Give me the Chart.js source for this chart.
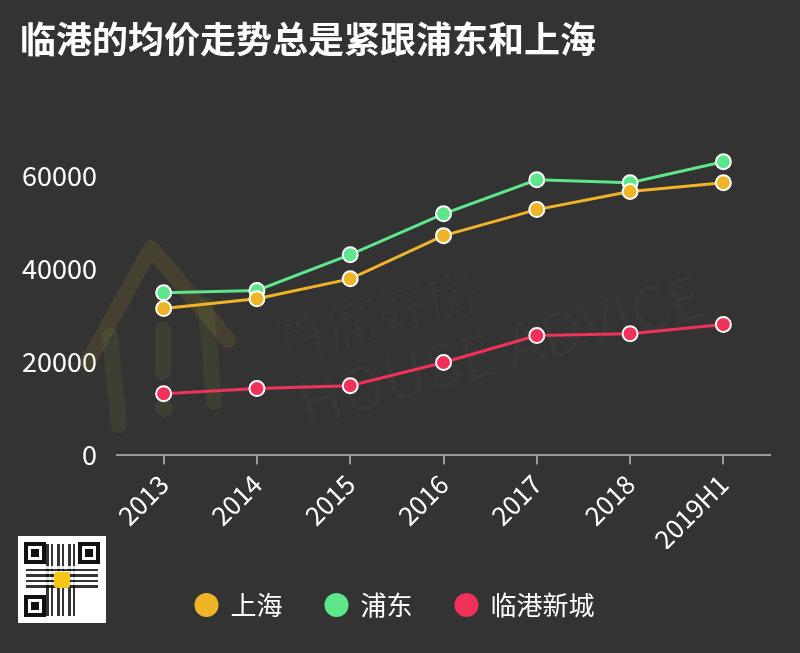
<!DOCTYPE html>
<html>
<head>
<meta charset="utf-8">
<script src="https://cdn.jsdelivr.net/npm/chart.js@4"></script>
<style>
  html, body { margin: 0; padding: 0; background: #333333; }
  #wrap { position: relative; width: 800px; height: 653px; }
  #qr { position: absolute; left: 18px; top: 536px; width: 88px; height: 87px; background: #fff; }
  #qr .f { position: absolute; width: 14px; height: 14px; border: 4px solid #111; background: #fff; }
  #qr .f::after { content: ''; position: absolute; left: 3px; top: 3px; width: 8px; height: 8px; background: #111; }
  #qr .m { position: absolute; left: 28px; top: 8px; width: 32px; height: 72px;
    background: repeating-linear-gradient(90deg, #111 0 3px, #fff 3px 5px, #111 5px 7px, #fff 7px 11px); opacity: .85; }
  #qr .m2 { position: absolute; left: 8px; top: 30px; width: 72px; height: 22px;
    background: repeating-linear-gradient(0deg, #111 0 3px, #fff 3px 6px, #111 6px 8px, #fff 8px 11px); opacity: .85; }
  #qr .logo { position: absolute; left: 36px; top: 36px; width: 16px; height: 16px; background: #f5c518; border-radius: 3px; }
</style>
</head>
<body>
<div id="wrap">
  <canvas id="chart" width="800" height="653"></canvas>
  <div id="qr">
    <div class="m"></div><div class="m2"></div>
    <div class="f" style="left:6px;top:6px"></div>
    <div class="f" style="left:60px;top:6px"></div>
    <div class="f" style="left:6px;top:59px"></div>
    <div class="logo"></div>
  </div>
</div>
<script>
  'use strict';

  const categories = ['2013', '2014', '2015', '2016', '2017', '2018', '2019H1'];
  const shanghai = [31400, 33500, 37800, 47100, 52700, 56600, 58500];
  const pudong = [34800, 35300, 43000, 51800, 59100, 58500, 63000];
  const lingang = [13100, 14200, 14800, 19800, 25600, 26000, 28000];
  const yTicks = [0, 20000, 40000, 60000];

  const colors = {
    shanghai: '#F0B429',
    pudong: '#5EE68A',
    lingang: '#F0325A',
    axis: '#9a9a9a',
    text: '#ffffff'
  };

  const font = '"Noto Sans CJK SC", "Noto Sans", sans-serif';

  // Faint logo watermark behind the lines
  const watermark = {
    id: 'watermark',
    beforeDatasetsDraw(chart) {
      const ctx = chart.ctx;
      ctx.save();
      ctx.lineCap = 'round';
      ctx.lineJoin = 'round';
      ctx.lineWidth = 16;
      ctx.strokeStyle = 'rgba(190,150,40,0.14)';
      ctx.beginPath();
      ctx.moveTo(88, 362);
      ctx.lineTo(151, 248);
      ctx.lineTo(228, 340);
      ctx.stroke();
      ctx.strokeStyle = 'rgba(120,140,40,0.14)';
      ctx.beginPath();
      ctx.moveTo(110, 336);
      ctx.lineTo(119, 425);
      ctx.moveTo(206, 305);
      ctx.lineTo(214, 402);
      ctx.moveTo(163, 330);
      ctx.lineTo(163, 372);
      ctx.stroke();
      ctx.fillStyle = 'rgba(120,140,40,0.14)';
      ctx.beginPath();
      ctx.arc(164, 408, 9, 0, Math.PI * 2);
      ctx.fill();

      ctx.translate(495, 330);
      ctx.rotate(-0.27);
      ctx.fillStyle = 'rgba(255,255,255,0.02)';
      ctx.font = '60px ' + font;
      ctx.textAlign = 'center';
      ctx.fillText('HOUSE ADVICE', 0, 20);
      ctx.fillStyle = 'rgba(255,255,255,0.014)';
      ctx.font = '52px ' + font;
      ctx.fillText('首席好房', -110, -45);
      ctx.restore();
    }
  };

  const series = (label, data, color) => ({
    label,
    data,
    borderColor: color,
    backgroundColor: color,
    borderWidth: 3,
    pointRadius: 7.5,
    pointHoverRadius: 7.5,
    pointBorderWidth: 2,
    pointBorderColor: '#ffffff',
    pointBackgroundColor: color,
    tension: 0,
    fill: false
  });

  new Chart(document.getElementById('chart'), {
    type: 'line',
    data: {
      labels: categories,
      datasets: [
        series('上海', shanghai, colors.shanghai),
        series('浦东', pudong, colors.pudong),
        series('临港新城', lingang, colors.lingang)
      ]
    },
    plugins: [watermark],
    options: {
      responsive: false,
      animation: false,
      devicePixelRatio: 1,
      layout: { padding: { left: 20, right: 30, top: 0, bottom: 25 } },
      plugins: {
        title: {
          display: true,
          text: '临港的均价走势总是紧跟浦东和上海',
          align: 'start',
          color: colors.text,
          font: { family: font, size: 36, weight: 'bold' },
          padding: { top: 18, bottom: 68 }
        },
        legend: {
          position: 'bottom',
          labels: {
            usePointStyle: true,
            pointStyle: 'circle',
            boxWidth: 22,
            boxHeight: 17,
            padding: 43,
            color: colors.text,
            font: { family: font, size: 26 },
            generateLabels(chart) {
              return chart.data.datasets.map((ds, i) => ({
                text: ds.label,
                fillStyle: ds.borderColor,
                strokeStyle: ds.borderColor,
                fontColor: colors.text,
                lineWidth: 0,
                pointStyle: 'circle',
                datasetIndex: i
              }));
            }
          }
        },
        tooltip: { enabled: false }
      },
      scales: {
        x: {
          offset: true,
          grid: { display: true, drawOnChartArea: false, drawTicks: true, tickLength: 10, color: colors.axis, lineWidth: 2 },
          border: { display: true, color: colors.axis, width: 2 },
          ticks: {
            color: colors.text,
            font: { family: font, size: 26 },
            minRotation: 45,
            maxRotation: 45,
            padding: 4
          },
          afterFit(axis) {
            // let the y axis decide the left edge, not the rotated first label
            axis.paddingLeft = 0;
            axis.height -= 10;
          }
        },
        y: {
          min: 0,
          max: 70000,
          grid: { display: false, drawTicks: false },
          border: { display: false },
          afterBuildTicks(axis) {
            axis.ticks = yTicks.map((v) => ({ value: v }));
          },
          afterFit(axis) {
            axis.width = 97;
          },
          ticks: {
            color: colors.text,
            font: { family: font, size: 27 },
            padding: 20,
            callback: (v) => String(v)
          }
        }
      }
    }
  });
</script>
</body>
</html>
